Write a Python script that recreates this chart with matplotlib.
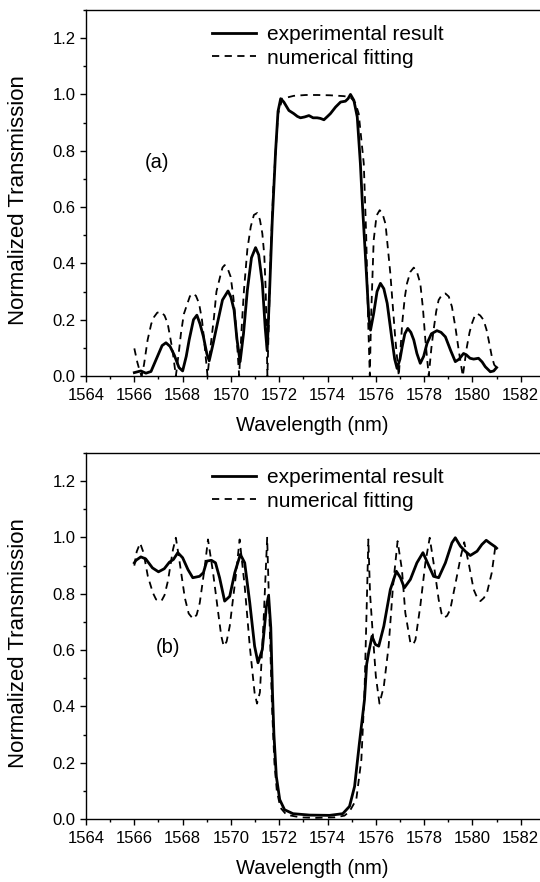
import matplotlib
matplotlib.use("Agg")
import matplotlib.pyplot as plt
from matplotlib.ticker import MultipleLocator

plt.rcParams['font.family'] = ['Liberation Sans', 'DejaVu Sans']

# panel (a): transmission of the filter
wl_a_exp = [1566.0, 1566.27, 1566.48, 1566.69, 1566.96, 1567.15, 1567.31, 1567.48, 1567.65, 1567.85,
            1568.0, 1568.15, 1568.27, 1568.45, 1568.59, 1568.72, 1568.86, 1569.0, 1569.1, 1569.25,
            1569.44, 1569.65, 1569.88, 1570.0, 1570.13, 1570.25, 1570.38, 1570.52, 1570.68, 1570.85,
            1571.02, 1571.15, 1571.3, 1571.42, 1571.5, 1571.6, 1571.71, 1571.85, 1571.95, 1572.06,
            1572.19, 1572.4, 1572.6, 1572.75, 1572.88, 1573.05, 1573.23, 1573.4, 1573.57, 1573.7,
            1573.85, 1574.0, 1574.12, 1574.33, 1574.54, 1574.74, 1574.85, 1574.95, 1575.09, 1575.23,
            1575.36, 1575.45, 1575.57, 1575.71, 1575.78, 1575.91, 1576.05, 1576.19, 1576.33, 1576.47,
            1576.67, 1576.78, 1576.88, 1577.0, 1577.09, 1577.2, 1577.32, 1577.45, 1577.57, 1577.7,
            1577.84, 1577.98, 1578.12, 1578.3, 1578.53, 1578.7, 1578.88, 1579.1, 1579.29, 1579.45,
            1579.63, 1579.75, 1579.9, 1580.05, 1580.25, 1580.4, 1580.53, 1580.74, 1580.88, 1581.0]
tr_a_exp = [0.012, 0.018, 0.01, 0.016, 0.07, 0.108, 0.118, 0.105, 0.075, 0.03,
            0.018, 0.07, 0.128, 0.2, 0.216, 0.185, 0.14, 0.08, 0.054, 0.11,
            0.187, 0.27, 0.302, 0.28, 0.234, 0.13, 0.051, 0.15, 0.305, 0.42,
            0.456, 0.43, 0.33, 0.17, 0.09, 0.3, 0.55, 0.8, 0.94, 0.985,
            0.973, 0.943, 0.932, 0.922, 0.917, 0.92, 0.925, 0.917, 0.917, 0.915,
            0.91, 0.922, 0.932, 0.955, 0.973, 0.976, 0.985, 1.0, 0.979, 0.92,
            0.754, 0.6, 0.423, 0.21, 0.163, 0.222, 0.3, 0.329, 0.31, 0.258,
            0.128, 0.06, 0.027, 0.06, 0.104, 0.15, 0.169, 0.155, 0.128, 0.08,
            0.045, 0.07, 0.116, 0.15, 0.161, 0.155, 0.139, 0.09, 0.051, 0.06,
            0.08, 0.075, 0.063, 0.06, 0.063, 0.05, 0.033, 0.015, 0.018, 0.03]

wl_a_fit = [1566.0, 1566.12, 1566.2, 1566.3, 1566.4, 1566.55, 1566.7, 1566.82, 1566.95, 1567.1,
            1567.25, 1567.38, 1567.58, 1567.72, 1567.85, 1567.93, 1568.05, 1568.2, 1568.3, 1568.41,
            1568.55, 1568.68, 1568.8, 1568.89, 1569.03, 1569.15, 1569.3, 1569.4, 1569.55, 1569.65,
            1569.74, 1569.85, 1569.99, 1570.1, 1570.2, 1570.34, 1570.45, 1570.54, 1570.68, 1570.82,
            1570.95, 1571.09, 1571.2, 1571.3, 1571.38, 1571.44, 1571.51, 1571.64, 1571.75, 1571.95,
            1572.13, 1572.6, 1573.1, 1573.57, 1574.1, 1574.67, 1574.95, 1575.15, 1575.29, 1575.5,
            1575.6, 1575.68, 1575.75, 1575.8, 1575.91, 1576.03, 1576.16, 1576.28, 1576.4, 1576.6,
            1576.7, 1576.81, 1576.95, 1577.09, 1577.2, 1577.29, 1577.43, 1577.57, 1577.7, 1577.84,
            1577.95, 1578.05, 1578.19, 1578.3, 1578.39, 1578.5, 1578.6, 1578.75, 1578.88, 1579.02,
            1579.15, 1579.3, 1579.43, 1579.6, 1579.77, 1579.88, 1579.98, 1580.08, 1580.19, 1580.32,
            1580.46, 1580.58, 1580.67, 1580.8, 1580.9, 1581.0]
tr_a_fit = [0.098, 0.05, 0.025, 0.0, 0.04, 0.128, 0.185, 0.21, 0.225, 0.228,
            0.215, 0.187, 0.092, 0.0, 0.09, 0.151, 0.22, 0.258, 0.283, 0.293,
            0.285, 0.258, 0.2, 0.128, 0.0, 0.1, 0.21, 0.3, 0.352, 0.385,
            0.394, 0.385, 0.352, 0.28, 0.187, 0.0, 0.18, 0.305, 0.45, 0.53,
            0.572, 0.579, 0.555, 0.506, 0.43, 0.305, 0.0, 0.423, 0.66, 0.93,
            0.985, 0.995, 0.998, 0.998, 0.997, 0.994, 0.99, 0.97, 0.932, 0.755,
            0.5, 0.2, 0.0, 0.2, 0.482, 0.57, 0.589, 0.575, 0.54, 0.364,
            0.25, 0.128, 0.0, 0.187, 0.28, 0.329, 0.37, 0.385, 0.37, 0.329,
            0.24, 0.128, 0.0, 0.1, 0.163, 0.23, 0.27, 0.29, 0.293, 0.282,
            0.246, 0.17, 0.092, 0.0, 0.104, 0.155, 0.187, 0.21, 0.222, 0.215,
            0.199, 0.165, 0.128, 0.07, 0.04, 0.03]

# panel (b): the complementary (dip) spectrum
wl_b_exp = [1566.0, 1566.07, 1566.27, 1566.47, 1566.75, 1567.0, 1567.24, 1567.45, 1567.62, 1567.8,
            1568.0, 1568.22, 1568.42, 1568.7, 1568.86, 1569.0, 1569.19, 1569.36, 1569.53, 1569.74,
            1569.95, 1570.16, 1570.39, 1570.57, 1570.78, 1570.98, 1571.12, 1571.3, 1571.47, 1571.56,
            1571.65, 1571.72, 1571.78, 1571.88, 1572.02, 1572.22, 1572.57, 1573.26, 1574.08, 1574.63,
            1574.91, 1575.12, 1575.32, 1575.53, 1575.62, 1575.7, 1575.84, 1575.98, 1576.12, 1576.33,
            1576.6, 1576.85, 1577.02, 1577.18, 1577.43, 1577.7, 1577.95, 1578.14, 1578.39, 1578.6,
            1578.88, 1579.15, 1579.29, 1579.5, 1579.7, 1579.91, 1580.19, 1580.39, 1580.57, 1580.74,
            1580.94, 1581.0]
tr_b_exp = [0.91, 0.919, 0.931, 0.924, 0.892, 0.878, 0.889, 0.912, 0.922, 0.946,
            0.928, 0.886, 0.857, 0.862, 0.875, 0.916, 0.919, 0.91, 0.857, 0.774,
            0.791, 0.875, 0.94, 0.91, 0.768, 0.614, 0.555, 0.602, 0.756, 0.794,
            0.68, 0.45, 0.3, 0.151, 0.069, 0.033, 0.019, 0.014, 0.013, 0.019,
            0.045, 0.116, 0.27, 0.424, 0.55, 0.59, 0.649, 0.62, 0.614, 0.685,
            0.815, 0.88, 0.857, 0.821, 0.851, 0.91, 0.946, 0.91, 0.862, 0.857,
            0.91, 0.981, 0.999, 0.969, 0.951, 0.936, 0.951, 0.975, 0.99, 0.979,
            0.967, 0.962]

wl_b_fit = [1566.0, 1566.1, 1566.24, 1566.38, 1566.56, 1566.77, 1566.9, 1567.0, 1567.12, 1567.25,
            1567.39, 1567.6, 1567.72, 1567.88, 1568.09, 1568.25, 1568.43, 1568.58, 1568.71, 1568.92,
            1569.05, 1569.26, 1569.51, 1569.6, 1569.7, 1569.82, 1569.95, 1570.2, 1570.36, 1570.57,
            1570.78, 1570.98, 1571.08, 1571.2, 1571.35, 1571.5, 1571.6, 1571.7, 1571.8, 1571.9,
            1572.05, 1572.3, 1572.88, 1573.5, 1574.3, 1574.7, 1574.91, 1575.19, 1575.4, 1575.53,
            1575.62, 1575.69, 1575.76, 1575.86, 1576.0, 1576.15, 1576.33, 1576.53, 1576.71, 1576.9,
            1577.08, 1577.22, 1577.43, 1577.55, 1577.64, 1577.84, 1578.05, 1578.23, 1578.39, 1578.6,
            1578.72, 1578.83, 1578.95, 1579.08, 1579.33, 1579.52, 1579.66, 1579.84, 1580.05, 1580.2,
            1580.33, 1580.47, 1580.6, 1580.8, 1580.94, 1581.0]
tr_b_fit = [0.9, 0.95, 0.98, 0.946, 0.862, 0.803, 0.78, 0.776, 0.774, 0.795,
            0.845, 0.957, 0.999, 0.91, 0.786, 0.73, 0.711, 0.725, 0.768, 0.898,
            0.993, 0.875, 0.708, 0.65, 0.614, 0.63, 0.685, 0.862, 0.993, 0.827,
            0.614, 0.448, 0.41, 0.45, 0.7, 0.999, 0.7, 0.4, 0.2, 0.1,
            0.04, 0.015, 0.006, 0.004, 0.006, 0.012, 0.027, 0.069, 0.211, 0.448,
            0.75, 0.993, 0.8, 0.673, 0.507, 0.41, 0.471, 0.614, 0.827, 0.987,
            0.886, 0.732, 0.626, 0.62, 0.637, 0.756, 0.91, 0.999, 0.91, 0.78,
            0.73, 0.715, 0.722, 0.744, 0.851, 0.934, 0.983, 0.91, 0.815, 0.785,
            0.774, 0.785, 0.803, 0.875, 0.963, 0.97]

x_ticks = [1564, 1566, 1568, 1570, 1572, 1574, 1576, 1578, 1580, 1582]
y_ticks = [0.0, 0.2, 0.4, 0.6, 0.8, 1.0, 1.2]

panels = [
    (wl_a_exp, tr_a_exp, wl_a_fit, tr_a_fit, "(a)", (1566.95, 0.76), [0.1593, 0.5737, 0.8498, 0.415]),
    (wl_b_exp, tr_b_exp, wl_b_fit, tr_b_fit, "(b)", (1567.4, 0.61), [0.1593, 0.0714, 0.8498, 0.415]),
]

fig = plt.figure(figsize=(5.4, 8.82), dpi=100)
for wx, ty, wf, tf, tag, tagpos, pos in panels:
    ax = fig.add_axes(pos)
    ax.plot(wx, ty, color='black', lw=2.0, label='experimental result')
    ax.plot(wf, tf, color='black', lw=1.3, dashes=(4, 3), label='numerical fitting')
    ax.set_xlim(1564, 1583)
    ax.set_ylim(0, 1.3)
    ax.set_xticks(x_ticks)
    ax.set_yticks(y_ticks)
    ax.xaxis.set_minor_locator(MultipleLocator(1))
    ax.yaxis.set_minor_locator(MultipleLocator(0.1))
    ax.set_yticklabels(["%.1f" % v for v in y_ticks])
    ax.tick_params(which='major', direction='out', length=4.5, width=1, labelsize=12, pad=3)
    ax.tick_params(axis='x', which='major', pad=4)
    ax.tick_params(which='minor', direction='out', length=2.5, width=1)
    for s in ax.spines.values():
        s.set_linewidth(1.0)
    ax.set_xlabel("Wavelength (nm)", fontsize=14.5, va='top')
    ax.xaxis.set_label_coords(0.4936, -0.11)
    ax.set_ylabel("Normalized Transmission", fontsize=16)
    ax.yaxis.set_label_coords(-0.125, 0.48)
    ax.text(tagpos[0], tagpos[1], tag, fontsize=14.5, ha='center', va='center')
    ax.legend(loc='upper left', bbox_to_anchor=(0.275, 0.958), frameon=False, fontsize=15,
              handlelength=2.1, handletextpad=0.55, borderpad=0, borderaxespad=0, labelspacing=0.2)

fig.savefig("out.png", dpi=100)
